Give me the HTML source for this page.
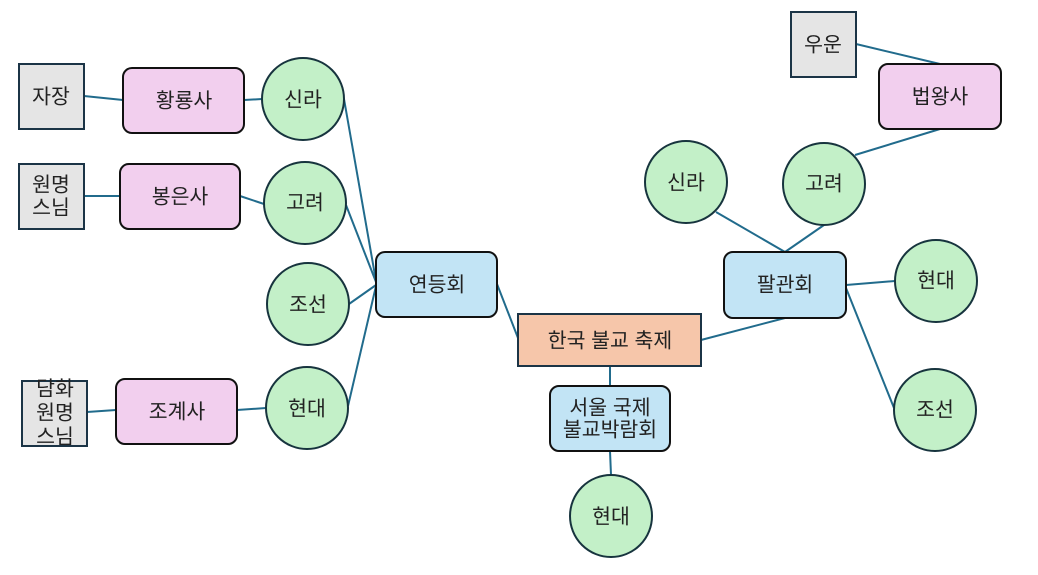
<!DOCTYPE html>
<html><head><meta charset="utf-8"><style>
html,body{margin:0;padding:0;background:#fff;}
svg{display:block;}
text{font-family:"Liberation Sans","Noto Sans CJK KR",sans-serif;font-size:20.5px;fill:#222;text-anchor:middle;dominant-baseline:central;}
</style></head><body>
<svg width="1038" height="575" viewBox="0 0 1038 575" xmlns="http://www.w3.org/2000/svg">
<g stroke="#216b8c" stroke-width="2" fill="none">
<line x1="84" y1="96" x2="123" y2="100"/>
<line x1="244" y1="100" x2="262" y2="99"/>
<line x1="84" y1="196" x2="120" y2="196"/>
<line x1="240" y1="196" x2="264" y2="204"/>
<line x1="87" y1="412" x2="116" y2="410"/>
<line x1="237" y1="410" x2="266" y2="408"/>
<line x1="344" y1="99" x2="376" y2="281"/>
<line x1="346" y1="205" x2="376" y2="282"/>
<line x1="349" y1="304" x2="376" y2="285"/>
<line x1="348" y1="406" x2="376" y2="286"/>
<line x1="497" y1="284" x2="518" y2="338"/>
<line x1="610" y1="366" x2="610" y2="385"/>
<line x1="610" y1="451" x2="611" y2="475"/>
<line x1="701" y1="340" x2="785" y2="318"/>
<line x1="716" y1="212" x2="785" y2="252"/>
<line x1="824" y1="225" x2="785" y2="252"/>
<line x1="846" y1="285" x2="895" y2="281"/>
<line x1="846" y1="288" x2="894" y2="408"/>
<line x1="856" y1="44" x2="940" y2="64"/>
<line x1="940" y1="129" x2="855" y2="155"/>
</g>
<g fill="#e5e5e5" stroke="#1b3446" stroke-width="2">
<rect x="19" y="64" width="65" height="65"/>
<rect x="19" y="164" width="65" height="65"/>
<rect x="22" y="381" width="65" height="65"/>
<rect x="791" y="12" width="65" height="65"/>
</g>
<g fill="#f2cfee" stroke="#111" stroke-width="2">
<rect x="123" y="68" width="121" height="65" rx="9"/>
<rect x="120" y="164" width="120" height="65" rx="9"/>
<rect x="116" y="379" width="121" height="65" rx="9"/>
<rect x="879" y="64" width="122" height="65" rx="9"/>
</g>
<g fill="#c2e4f5" stroke="#111" stroke-width="2">
<rect x="376" y="252" width="121" height="65" rx="9"/>
<rect x="550" y="386" width="120" height="65" rx="9"/>
<rect x="724" y="252" width="122" height="66" rx="9"/>
</g>
<rect x="518" y="314" width="183" height="52" fill="#f6c6aa" stroke="#1b3446" stroke-width="2"/>
<g fill="#c3f0c8" stroke="#17343e" stroke-width="2">
<circle cx="303" cy="99" r="41"/>
<circle cx="305" cy="203" r="41"/>
<circle cx="308" cy="304" r="41"/>
<circle cx="307" cy="408" r="41"/>
<circle cx="611" cy="516" r="41"/>
<circle cx="686" cy="182" r="41"/>
<circle cx="824" cy="184" r="41"/>
<circle cx="936" cy="281" r="41"/>
<circle cx="935" cy="410" r="41"/>
</g>
<text x="51" y="97">자장</text>
<text x="51" y="185">원명</text>
<text x="51" y="208">스님</text>
<text x="55" y="389">담화</text>
<text x="55" y="413">원명</text>
<text x="55" y="437">스님</text>
<text x="823" y="45">우운</text>
<text x="184" y="101">황룡사</text>
<text x="180" y="197">봉은사</text>
<text x="177" y="412">조계사</text>
<text x="940" y="97">법왕사</text>
<text x="303" y="100">신라</text>
<text x="305" y="203">고려</text>
<text x="308" y="305">조선</text>
<text x="307" y="409">현대</text>
<text x="437" y="285">연등회</text>
<text x="610" y="341">한국 불교 축제</text>
<text x="610" y="408">서울 국제</text>
<text x="610" y="430">불교박람회</text>
<text x="611" y="517">현대</text>
<text x="785" y="285">팔관회</text>
<text x="686" y="183">신라</text>
<text x="824" y="184">고려</text>
<text x="936" y="281">현대</text>
<text x="935" y="410">조선</text>
</svg>
</body></html>
